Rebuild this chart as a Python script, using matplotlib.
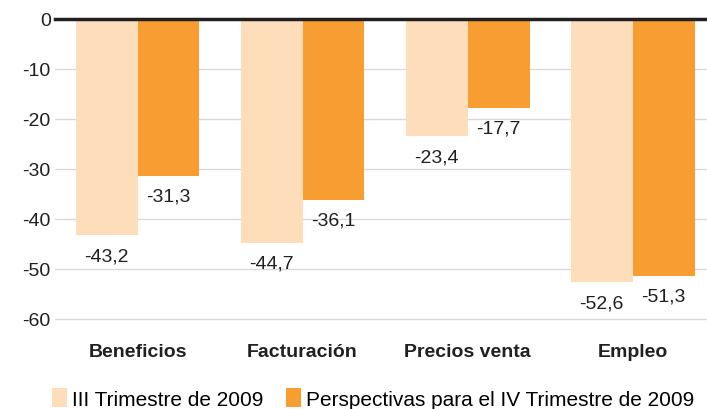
import numpy as np
import matplotlib
matplotlib.use("Agg")
import matplotlib.pyplot as plt

categories = ["Beneficios", "Facturación", "Precios venta", "Empleo"]
serie_iii = [-43.2, -44.7, -23.4, -52.6]
serie_iv = [-31.3, -36.1, -17.7, -51.3]
series_names = ["III Trimestre de 2009", "Perspectivas para el IV Trimestre de 2009"]
yticks = [0, -10, -20, -30, -40, -50, -60]

light = "#FDDDBA"
dark = "#F79D31"

plt.rcParams["font.family"] = ["Liberation Sans", "DejaVu Sans"]

fig = plt.figure(figsize=(7.07, 4.10), dpi=100)
ax = fig.add_axes([55 / 707, 1 - 322 / 410, 1 - 55 / 707, 302 / 410])

x = np.arange(len(categories))
w = 0.375
b1 = ax.bar(x - w / 2, serie_iii, w, color=light, label=series_names[0], zorder=2)
b2 = ax.bar(x + w / 2, serie_iv, w, color=dark, label=series_names[1], zorder=2)

def fmt(v):
    return f"{v:.1f}".replace(".", ",")

for bars, vals in ((b1, serie_iii), (b2, serie_iv)):
    for rect, v in zip(bars, vals):
        ax.annotate(fmt(v), (rect.get_x() + rect.get_width() / 2, v),
                    xytext=(0, -9), textcoords="offset points",
                    ha="center", va="top", fontsize=14, color="#231F20")

ax.set_xlim(-0.5, 3.45)
ax.set_ylim(-60.4, 0)
ax.set_yticks(yticks)
ax.set_yticklabels([str(t) for t in yticks], fontsize=14, color="#231F20")
ax.set_xticks(x)
ax.set_xticklabels(categories, fontsize=14, fontweight="bold", color="#231F20")
ax.tick_params(axis="both", length=0)
ax.tick_params(axis="y", pad=3)
ax.tick_params(axis="x", pad=16)
ax.grid(axis="y", color="#D9D9D9", linewidth=1, zorder=0)
ax.set_axisbelow(True)
for s in ax.spines.values():
    s.set_visible(False)
ax.axhline(0, color="#231F20", linewidth=2.5, zorder=3, clip_on=False)

fig.legend(loc="lower center", bbox_to_anchor=(0.528, -0.045), ncol=2, frameon=False,
           fontsize=15, handlelength=0.7, handleheight=1.0, handletextpad=0.25,
           columnspacing=1.1)

fig.savefig("out.png", dpi=100)
